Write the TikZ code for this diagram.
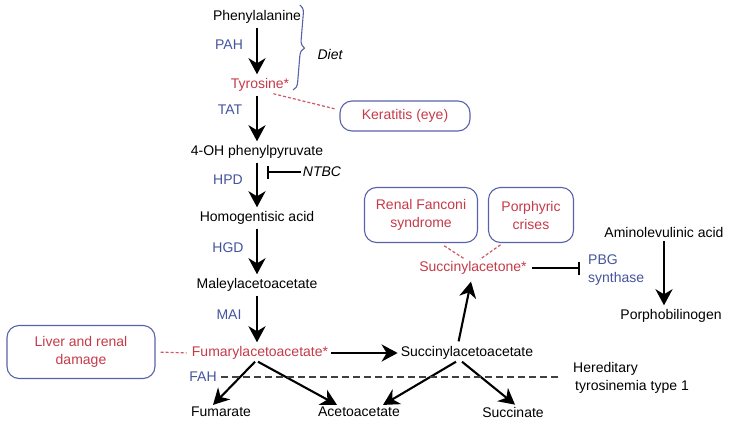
\documentclass[tikz,border=0pt]{standalone}
\usepackage{fontspec}
\setmainfont{Liberation Sans}
\usetikzlibrary{arrows.meta,decorations.pathreplacing}
\definecolor{pathred}{RGB}{196,58,72}
\definecolor{enzblue}{RGB}{68,84,156}
\definecolor{boxblue}{RGB}{88,98,168}
\tikzset{>={Stealth[length=16pt,width=17pt,inset=5pt]}}
\tikzset{
  met/.style={font=\fontsize{14}{18}\selectfont, inner sep=2pt},
  redmet/.style={met, text=pathred},
  enz/.style={met, text=enzblue},
  drug/.style={met, font=\fontsize{14}{18}\selectfont\itshape},
  effect/.style={met, text=pathred, draw=boxblue, line width=1.1pt, rounded corners=12pt, align=center},
  rxn/.style={->, line width=2.8pt, shorten <=2pt, shorten >=2pt},
  side/.style={->, line width=2.1pt},
  inhib/.style={-{Bar[width=13pt]}, line width=1.6pt},
  link/.style={pathred!85, dash pattern=on 3pt off 2pt, line width=1.2pt},
  fahline/.style={black!75, dash pattern=on 7pt off 4pt, line width=1.3pt}
}

\begin{document}
\begin{tikzpicture}[x=1pt,y=-1pt]
  \useasboundingbox (0,0) rectangle (730,428);
  % metabolites
  \node (phe) at (257,17) [met]{Phenylalanine};
  \node (tyr) at (260,85) [redmet]{Tyrosine*};
  \node (hpp) at (257,152) [met]{4-OH phenylpyruvate};
  \node (hga) at (257,218) [met]{Homogentisic acid};
  \node (maa) at (257,285) [met]{Maleylacetoacetate};
  \node (fum) at (260,353) [redmet]{Fumarylacetoacetate*};
  \node (fumr) at (221,412) [met]{Fumarate};
  \node (aca) at (359,412) [met]{Acetoacetate};
  \node (saa) at (467,353) [met]{Succinylacetoacetate};
  \node (suc) at (513,412) [met]{Succinate};
  \node (sac) at (473,268) [redmet]{Succinylacetone*};
  \node (ala) at (664,232) [met]{Aminolevulinic acid};
  \node (pbgn) at (671,316) [met]{Porphobilinogen};
  % enzymes and drug
  \node (pah) at (229,45) [enz]{PAH};
  \node (tat) at (230,110) [enz]{TAT};
  \node (hpd) at (228,180) [enz]{HPD};
  \node (hgd) at (228,248) [enz]{HGD};
  \node (mai) at (229,315) [enz]{MAI};
  \node (fah) at (203,377) [enz]{FAH};
  \node (pbg) at (586,270) [enz, anchor=west, align=left]{PBG\\synthase};
  \node (ntbc) at (322,172) [drug]{NTBC};
  \node (diet) at (330,54) [drug]{Diet};
  % clinical effects
  \node (ker) at (405,116) [effect, minimum width=130pt, minimum height=30pt]{Keratitis (eye)};
  \node (liver) at (81,352) [effect, minimum width=148pt, minimum height=53pt]{Liver and renal\\damage};
  \node (renal) at (421,215) [effect, minimum width=113pt, minimum height=55pt]{Renal Fanconi\\syndrome};
  \node (porph) at (531,215) [effect, minimum width=85pt, minimum height=55pt]{Porphyric\\crises};
  \node (htt) at (571,378) [met, anchor=west, align=left]{Hereditary\\\hspace{2pt}tyrosinemia type 1};

  % main pathway
  \draw [rxn] (phe.south) -- (phe.south |- tyr.north);
  \draw [rxn] (hpp.north |- tyr.south) -- (hpp.north);
  \draw [rxn] (hpp.south) -- (hga.north);
  \draw [rxn] (hga.south) -- (maa.north);
  \draw [rxn] (maa.south) -- (maa.south |- fum.north);
  \draw [rxn, shorten <=1pt, shorten >=1pt] (fum.east) -- (saa.west);
  \draw [side] ([xshift=-5pt]fum.south) -- ([xshift=-8pt]fumr.north);
  \draw [side] ([xshift=-2pt]fum.south) -- ([xshift=-22pt]aca.north);
  \draw [side] ([xshift=-11pt]saa.south) -- ([xshift=24pt]aca.north);
  \draw [side] ([xshift=-5pt]saa.south) -- ([xshift=2pt]suc.north);
  \draw [side, shorten <=3pt, shorten >=5pt] ([xshift=-9pt]saa.north) -- ([xshift=-1pt]sac.south);
  \draw [rxn] (ala.south) -- (ala.south |- pbgn.north);

  % inhibitions
  \draw [inhib, shorten >=10pt] (ntbc.west) -- (ntbc.west -| hpp.south);
  \draw [inhib, shorten <=3pt, shorten >=6pt] (sac.east) -- (sac.east -| pbg.west);

  % diet brace
  \coordinate (dtop) at (300,5);
  \coordinate (dbot) at (293,90);
  \draw [decorate, decoration={brace, amplitude=8pt}, boxblue, line width=1.1pt] (dtop) -- (dbot);

  % links to effects
  \draw [link, shorten >=5pt] ([xshift=-18pt]tyr.south east) -- ([yshift=6pt]ker.west);
  \draw [link, shorten <=5pt, shorten >=3pt] (liver.east) -- (fum.west);
  \draw [link, shorten <=5pt] ([xshift=19pt]renal.south) -- ([xshift=-8pt]sac.north);
  \draw [link, shorten <=3pt] ([xshift=-28pt]porph.south) -- ([xshift=7pt]sac.north);

  % FAH block
  \draw [fahline, shorten <=2pt, shorten >=10pt] (fah.east) -- (fah.east -| htt.west);
\end{tikzpicture}
\end{document}
